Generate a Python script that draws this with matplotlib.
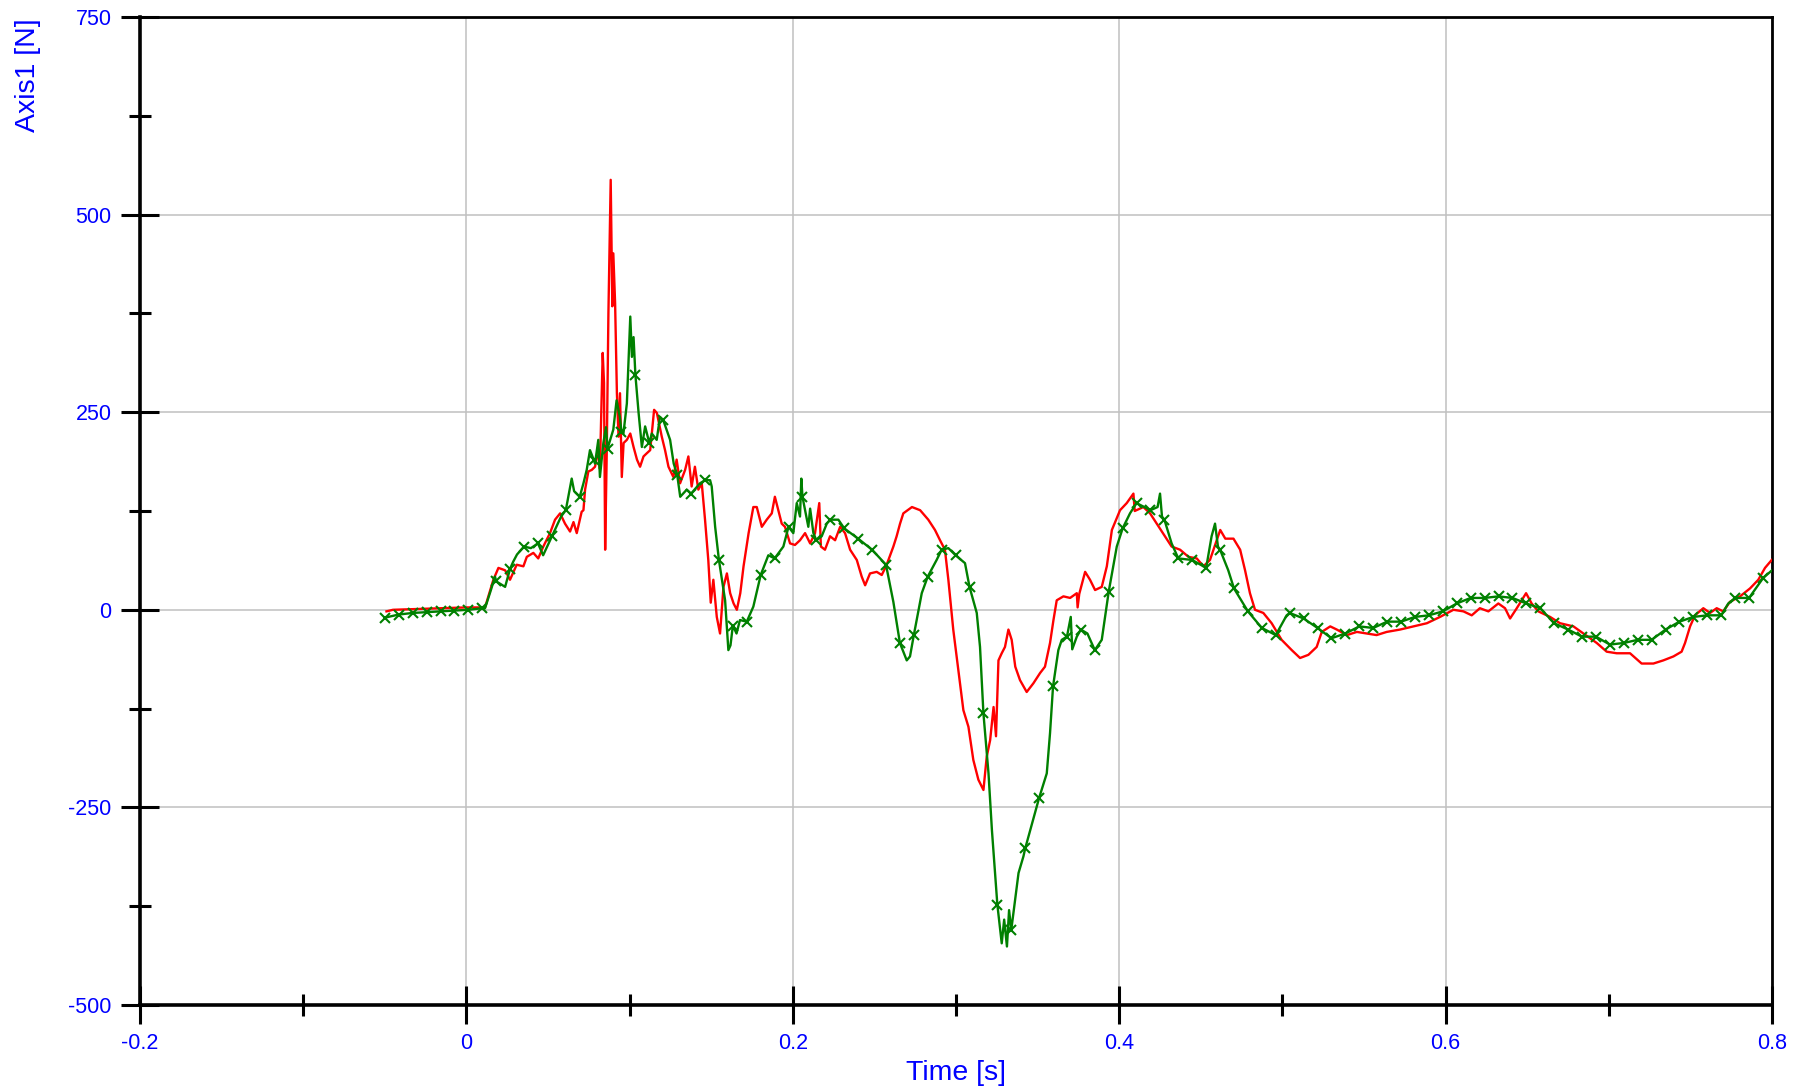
import numpy as np
from matplotlib import pyplot as plt
from matplotlib.ticker import MultipleLocator

# green channel: values at the marker samples (every 0.00853 s from -0.05)
green_mark_t0 = -0.05
green_mark_dt = 0.00853
green_mark_v = [-10, -6, -4, -3, -2, -1, 0, 2, 36, 52,
                80, 84, 93, 126, 143, 190, 204, 225, 297, 211,
                240, 171, 147, 164, 63, -20, -15, 44, 65, 105,
                143, 88, 114, 103, 90, 76, 57, -42, -32, 42,
                76, 69, 29, -131, -373, -405, -302, -238, -97, -34,
                -25, -51, 23, 103, 135, 126, 114, 65, 63, 53,
                76, 27, -2, -23, -32, -4, -11, -23, -36, -30,
                -21, -23, -15, -15, -9, -7, -2, 8, 15, 15,
                17, 15, 8, 2, -17, -25, -34, -34, -44, -42,
                -38, -38, -25, -15, -9, -7, -7, 15, 15, 40]

# green channel: extra samples between markers (noise / detail)
green_xt = [0.0114, 0.0150, 0.0175, 0.0237, 0.0287, 0.0310, 0.0395, 0.0470, 0.0580, 0.0645,
            0.0660, 0.0717, 0.0737, 0.0757, 0.0788, 0.0808, 0.0818, 0.0839, 0.0855, 0.0900,
            0.0920, 0.0940, 0.0962, 0.0983, 0.1004, 0.1014, 0.1024, 0.1055, 0.1075, 0.1095,
            0.1136, 0.1166, 0.1186, 0.1248, 0.1270, 0.1310, 0.1350, 0.1431, 0.1493, 0.1503,
            0.1524, 0.1585, 0.1605, 0.1618, 0.1655, 0.1676, 0.1758, 0.1850, 0.1942, 0.2003,
            0.2024, 0.2044, 0.2052, 0.2095, 0.2106, 0.2126, 0.2177, 0.2208, 0.2279, 0.2616,
            0.2698, 0.2718, 0.2790, 0.2881, 0.2953, 0.3055, 0.3127, 0.3147, 0.3199, 0.3220,
            0.3280, 0.3295, 0.3312, 0.3325, 0.3383, 0.3413, 0.3484, 0.3556, 0.3576, 0.3627,
            0.3648, 0.3703, 0.3712, 0.3740, 0.3805, 0.3893, 0.3985, 0.4066, 0.4235, 0.4250,
            0.4262, 0.4321, 0.4566, 0.4587, 0.4605, 0.4668, 0.5026, 0.7732, 0.8000]
green_xv = [2, 25, 42, 29, 61, 70, 78, 69, 118, 166,
            150, 160, 177, 202, 185, 215, 168, 211, 231, 228,
            265, 244, 223, 261, 371, 320, 345, 249, 206, 232,
            223, 215, 244, 215, 185, 143, 152, 160, 164, 156,
            105, 12, -51, -45, -30, -13, 4, 69, 80, 97,
            135, 118, 166, 105, 128, 97, 93, 109, 114, 10,
            -64, -59, 21, 63, 78, 59, -4, -47, -207, -279,
            -422, -392, -426, -380, -333, -312, -257, -207, -156, -51,
            -38, -9, -50, -34, -30, -38, 80, 122, 130, 147,
            118, 84, 93, 109, 80, 50, -7, 8, 50]

# red channel
red_t = [-0.0490, -0.0450, -0.0300, -0.0150, 0.0000, 0.0114, 0.0165, 0.0196, 0.0237, 0.0267,
         0.0308, 0.0349, 0.0370, 0.0410, 0.0440, 0.0471, 0.0512, 0.0543, 0.0574, 0.0604,
         0.0635, 0.0656, 0.0676, 0.0706, 0.0717, 0.0727, 0.0747, 0.0768, 0.0788, 0.0808,
         0.0818, 0.0835, 0.0843, 0.0850, 0.0860, 0.0870, 0.0884, 0.0894, 0.0900, 0.0911,
         0.0922, 0.0932, 0.0941, 0.0952, 0.0963, 0.0983, 0.1004, 0.1024, 0.1045, 0.1064,
         0.1085, 0.1105, 0.1126, 0.1150, 0.1167, 0.1197, 0.1217, 0.1238, 0.1268, 0.1288,
         0.1309, 0.1340, 0.1360, 0.1380, 0.1400, 0.1421, 0.1442, 0.1462, 0.1482, 0.1497,
         0.1513, 0.1534, 0.1554, 0.1575, 0.1596, 0.1616, 0.1637, 0.1657, 0.1678, 0.1698,
         0.1729, 0.1758, 0.1779, 0.1810, 0.1840, 0.1871, 0.1890, 0.1911, 0.1932, 0.1952,
         0.1983, 0.2013, 0.2044, 0.2075, 0.2106, 0.2136, 0.2162, 0.2172, 0.2197, 0.2228,
         0.2259, 0.2290, 0.2320, 0.2351, 0.2392, 0.2422, 0.2443, 0.2473, 0.2514, 0.2545,
         0.2575, 0.2616, 0.2636, 0.2657, 0.2677, 0.2730, 0.2780, 0.2830, 0.2871, 0.2902,
         0.2932, 0.2953, 0.2983, 0.3014, 0.3045, 0.3076, 0.3106, 0.3137, 0.3168, 0.3188,
         0.3209, 0.3230, 0.3245, 0.3260, 0.3280, 0.3300, 0.3321, 0.3341, 0.3363, 0.3392,
         0.3433, 0.3474, 0.3515, 0.3545, 0.3576, 0.3597, 0.3617, 0.3658, 0.3699, 0.3740,
         0.3745, 0.3755, 0.3791, 0.3821, 0.3852, 0.3893, 0.3924, 0.3955, 0.4005, 0.4046,
         0.4087, 0.4095, 0.4148, 0.4189, 0.4230, 0.4281, 0.4321, 0.4373, 0.4424, 0.4475,
         0.4516, 0.4556, 0.4619, 0.4650, 0.4700, 0.4741, 0.4771, 0.4801, 0.4832, 0.4883,
         0.4934, 0.4995, 0.5057, 0.5108, 0.5159, 0.5210, 0.5241, 0.5293, 0.5333, 0.5395,
         0.5456, 0.5517, 0.5577, 0.5639, 0.5721, 0.5803, 0.5885, 0.5966, 0.6048, 0.6109,
         0.6160, 0.6210, 0.6262, 0.6323, 0.6364, 0.6395, 0.6436, 0.6493, 0.6527, 0.6568,
         0.6640, 0.6701, 0.6783, 0.6844, 0.6926, 0.6987, 0.7048, 0.7130, 0.7201, 0.7273,
         0.7334, 0.7396, 0.7446, 0.7467, 0.7498, 0.7528, 0.7579, 0.7620, 0.7661, 0.7701,
         0.7742, 0.7804, 0.7865, 0.7916, 0.7957, 0.7998]
red_v = [-2, 0, 1, 2, 3, 3, 38, 53, 50, 38,
         57, 55, 67, 72, 65, 80, 97, 114, 122, 109,
         99, 111, 97, 124, 126, 152, 175, 177, 181, 202,
         178, 325, 287, 76, 202, 375, 544, 384, 451, 388,
         274, 219, 274, 168, 211, 215, 223, 206, 190, 181,
         194, 198, 202, 253, 249, 219, 202, 181, 168, 190,
         160, 177, 194, 156, 181, 152, 160, 114, 63, 9,
         38, -9, -30, 29, 46, 21, 8, 0, 21, 55,
         97, 130, 130, 105, 114, 122, 143, 126, 109, 105,
         84, 82, 88, 97, 84, 97, 135, 80, 76, 93,
         88, 105, 97, 76, 63, 42, 31, 46, 48, 44,
         57, 80, 93, 109, 122, 130, 126, 114, 101, 88,
         76, 38, -25, -76, -127, -148, -190, -215, -228, -186,
         -165, -123, -160, -64, -55, -47, -25, -38, -72, -89,
         -104, -93, -80, -72, -42, -13, 12, 17, 15, 21,
         3, 20, 48, 38, 25, 29, 55, 101, 126, 135,
         147, 125, 130, 122, 109, 93, 80, 76, 67, 65,
         55, 63, 101, 90, 90, 76, 50, 21, 0, -4,
         -17, -38, -51, -61, -57, -47, -28, -21, -25, -32,
         -28, -30, -32, -28, -25, -21, -17, -9, 0, -2,
         -7, 2, -2, 8, 2, -11, 2, 21, 8, -2,
         -9, -17, -21, -30, -42, -53, -55, -55, -68, -68,
         -64, -59, -53, -42, -21, -7, 2, -4, 2, -2,
         10, 17, 27, 38, 53, 63]

x_ticks = [-0.2, 0, 0.2, 0.4, 0.6, 0.8]
x_ticklabels = ['-0.2', '0', '0.2', '0.4', '0.6', '0.8']
y_ticks = [-500, -250, 0, 250, 500, 750]
y_ticklabels = ['-500', '-250', '0', '250', '500', '750']

plt.rcParams['font.family'] = ['Liberation Sans', 'DejaVu Sans']
plt.rcParams['axes.unicode_minus'] = False

green_mark_t = green_mark_t0 + green_mark_dt * np.arange(len(green_mark_v))
green_t = np.concatenate([green_mark_t, green_xt])
green_v = np.concatenate([green_mark_v, green_xv])
order = np.argsort(green_t)
green_t, green_v = green_t[order], green_v[order]

fig = plt.figure(figsize=(17.93, 10.90), dpi=100)
ax = fig.add_axes([0.0781, 0.078, 0.9102, 0.9064])

ax.plot(red_t, red_v, color='#ff0000', lw=1.7, zorder=3)
ax.plot(green_t, green_v, color='#008000', lw=1.7, zorder=4)
ax.plot(green_mark_t, green_mark_v, 'x', color='#008000', ms=6.5, mew=1.5, zorder=4)

ax.set_xlim(-0.2, 0.8)
ax.set_ylim(-500, 750)
ax.set_xticks(x_ticks)
ax.set_xticklabels(x_ticklabels)
ax.set_yticks(y_ticks)
ax.set_yticklabels(y_ticklabels)
ax.xaxis.set_minor_locator(MultipleLocator(0.1))
ax.yaxis.set_minor_locator(MultipleLocator(125))
ax.grid(True, which='major', color='#c0c0c0', lw=1.1, zorder=0)
ax.set_axisbelow(True)

ax.tick_params(which='major', direction='inout', length=28, width=2.2,
               colors='black', labelcolor='#0000ff', labelsize=15.5, pad=6.5)
ax.tick_params(which='minor', direction='inout', length=16, width=2.2, colors='black')
for s in ['left', 'bottom']:
    ax.spines[s].set_linewidth(2.6)
for s in ['top', 'right']:
    ax.spines[s].set_linewidth(2.0)

fig.text(15 / 1793, 1 - 18 / 1090, 'Axis1 [N]', rotation=90, ha='left', va='top',
         color='#0000ff', fontsize=20.5)
fig.text(956 / 1793, 1 - 1073 / 1090, 'Time [s]', ha='center', va='center',
         color='#0000ff', fontsize=20.5)

fig.savefig('out.png', dpi=100)
